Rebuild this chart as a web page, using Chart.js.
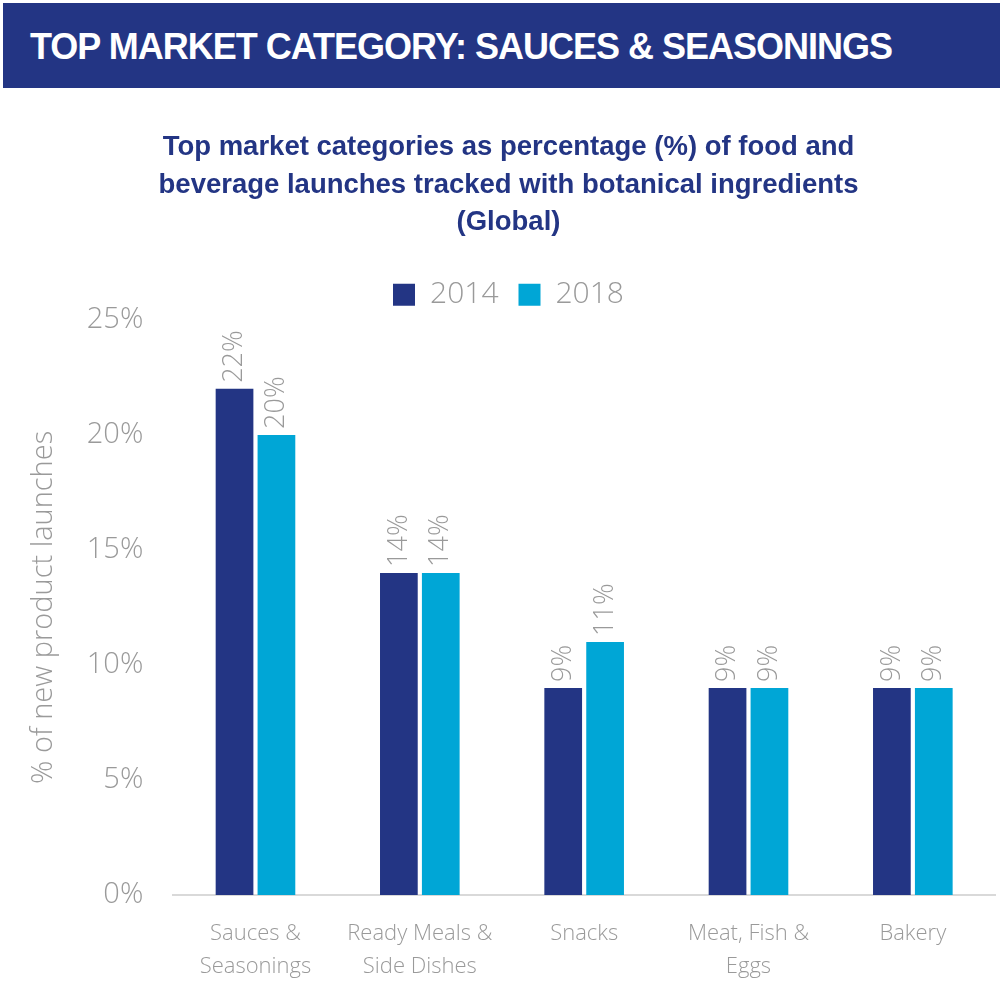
<!DOCTYPE html>
<html>
<head>
<meta charset="utf-8">
<script src="https://cdn.jsdelivr.net/npm/chart.js@4"></script>
<style>
  body { margin: 0; background: #fff; font-family: "Liberation Sans", Arial, sans-serif; }
  #banner { position: absolute; left: 3px; top: 3px; width: 997px; height: 85px; background: #233584; color: #fff;
    font-weight: bold; font-size: 36px; line-height: 88px; padding-left: 27px; box-sizing: border-box; letter-spacing: -1px; }
  #wrap { position: absolute; left: 0; top: 128px; width: 1003px; height: 873px; }
</style>
</head>
<body>
<div id="banner">TOP MARKET CATEGORY: SAUCES &amp; SEASONINGS</div>
<div id="wrap"><canvas id="chart"></canvas></div>
<script>
const categories = [["Sauces &", "Seasonings"], ["Ready Meals &", "Side Dishes"], ["Snacks"], ["Meat, Fish &", "Eggs"], ["Bakery"]];
const values2014 = [22, 14, 9, 9, 9];
const values2018 = [20, 14, 11, 9, 9];

const gray = '#9a9a9a';
const barLabels = {
  id: 'barLabels',
  afterDatasetsDraw(chart) {
    const ctx = chart.ctx;
    ctx.save();
    ctx.fillStyle = gray;
    ctx.font = '300 27px "Open Sans", sans-serif';
    ctx.textAlign = 'left';
    ctx.textBaseline = 'middle';
    chart.data.datasets.forEach((ds, i) => {
      chart.getDatasetMeta(i).data.forEach((bar, j) => {
        ctx.save();
        ctx.translate(bar.x, bar.y - 6);
        ctx.rotate(-Math.PI / 2);
        ctx.fillText(ds.data[j] + '%', 0, 0);
        ctx.restore();
      });
    });
    ctx.restore();
  }
};

new Chart(document.getElementById('chart'), {
  type: 'bar',
  data: {
    labels: categories,
    datasets: [
      { label: '2014', data: values2014, backgroundColor: '#233584', categoryPercentage: 0.51, barPercentage: 0.9 },
      { label: '2018', data: values2018, backgroundColor: '#00a6d6', categoryPercentage: 0.51, barPercentage: 0.9 }
    ]
  },
  options: {
    responsive: true,
    maintainAspectRatio: false,
    animation: false,
    layout: { padding: { left: 22, right: 8, bottom: 4 } },
    plugins: {
      title: {
        display: true,
        text: ['Top market categories as percentage (%) of food and', 'beverage launches tracked with botanical ingredients', '(Global)'],
        color: '#233584',
        font: { family: '"Liberation Sans", Arial', size: 27.5, weight: 'bold', lineHeight: 1.38 },
        padding: { top: 0, bottom: 18 }
      },
      legend: {
        labels: { color: gray, font: { family: '"Open Sans"', size: 30, weight: '300' }, boxWidth: 22, boxHeight: 22, padding: 20 }
      },
      tooltip: { enabled: false }
    },
    scales: {
      y: {
        min: 0, max: 25,
        ticks: { stepSize: 5, callback: v => v + '%', color: gray, font: { family: '"Open Sans"', size: 29, weight: '300' }, padding: 22 },
        grid: { display: false },
        border: { display: false },
        title: { display: true, text: '% of new product launches', color: gray, font: { family: '"Open Sans"', size: 29, weight: '300' } }
      },
      x: {
        ticks: { color: gray, font: { family: '"Open Sans"', size: 22, weight: '300', lineHeight: 1.5 }, padding: 14 },
        grid: { display: false },
        border: { color: '#d9d9d9', width: 2 }
      }
    }
  },
  plugins: [barLabels]
});
</script>
</body>
</html>
